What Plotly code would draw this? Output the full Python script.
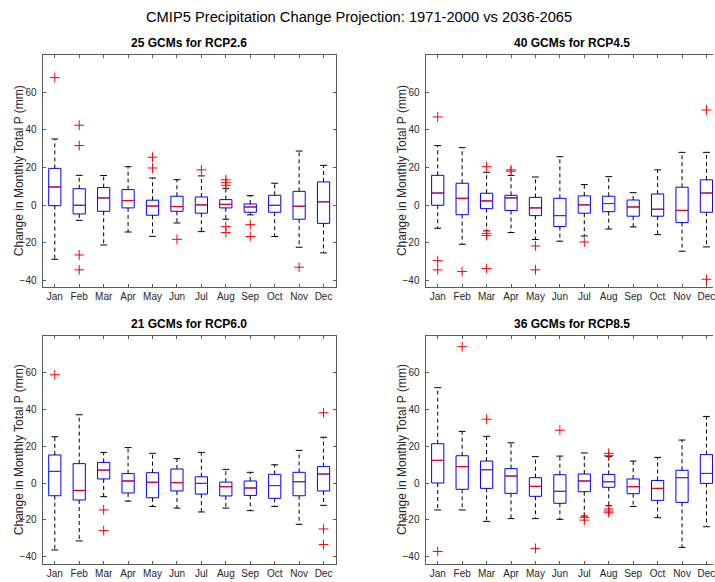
import plotly.graph_objects as go

months = ["Jan", "Feb", "Mar", "Apr", "May", "Jun",
          "Jul", "Aug", "Sep", "Oct", "Nov", "Dec"]
month_pos = list(range(1, 13))

# ---- RCP2.6 (25 GCMs) ----
rcp26_hi = [35.2, 15.9, 15.8, 20.5, 14.5, 13.6, 15.6, 9.0, 5.1, 11.7, 28.8, 21.2]
rcp26_q3 = [19.6, 8.8, 9.4, 8.3, 2.7, 4.8, 4.4, 3.0, 0.7, 5.3, 7.4, 12.4]
rcp26_med = [9.7, 0.0, 3.9, 2.5, -0.4, -0.7, 0.2, 0.5, -0.9, 0.0, -0.5, 1.8]
rcp26_q1 = [-0.2, -4.6, -3.2, -1.4, -5.3, -3.2, -4.2, -1.4, -3.7, -3.7, -7.4, -9.6]
rcp26_lo = [-28.7, -8.0, -21.1, -14.2, -16.5, -9.4, -14.0, -7.4, -5.1, -16.6, -22.3, -25.3]
rcp26_out_month = [1, 2, 2, 2, 2, 5, 5, 6, 7, 8, 8, 8, 8, 8, 9, 9, 11]
rcp26_out_value = [67.8, 42.5, 31.7, -26.4, -34.3, 25.5, 19.8, -18.1, 18.8,
                   13.5, 12.0, 10.6, -11.3, -14.5, -10.3, -16.6, -32.9]

# ---- RCP4.5 (40 GCMs) ----
rcp45_hi = [31.7, 30.6, 17.5, 15.8, 15.0, 25.8, 11.0, 15.2, 6.7, 18.8, 28.1, 28.1]
rcp45_q3 = [15.9, 11.7, 6.4, 5.3, 4.2, 3.7, 5.0, 4.8, 2.8, 6.0, 9.6, 13.5]
rcp45_med = [6.5, 3.7, 2.3, 3.9, -1.4, -5.5, 0.2, 0.9, -0.9, -2.1, -2.7, 6.5]
rcp45_q1 = [0.0, -5.0, -1.8, -2.8, -5.5, -11.3, -4.2, -3.4, -5.8, -5.8, -9.2, -3.7]
rcp45_lo = [-12.2, -20.7, -13.6, -14.5, -18.2, -19.1, -16.3, -12.6, -11.5, -15.6, -24.4, -22.1]
rcp45_out_month = [1, 1, 1, 2, 3, 3, 3, 3, 4, 4, 5, 5, 7, 12, 12]
rcp45_out_value = [46.9, -29.4, -34.3, -35.2, 20.5, -14.9, -16.1, -33.6,
                   18.8, 18.1, -21.6, -34.3, -19.5, 50.6, -39.3]

# ---- RCP6.0 (21 GCMs) ----
rcp60_hi = [25.1, 37.0, 16.6, 19.2, 16.1, 13.2, 16.6, 7.4, 5.8, 9.9, 17.7, 24.8]
rcp60_q3 = [15.2, 10.5, 11.2, 5.1, 5.6, 7.6, 3.4, 0.5, 1.1, 4.7, 5.8, 8.9]
rcp60_med = [6.3, -4.0, 7.0, 1.1, 0.4, 0.2, -0.2, -2.0, -2.7, -1.4, 0.7, 4.9]
rcp60_q1 = [-6.9, -9.2, 2.2, -5.4, -8.0, -4.3, -6.0, -7.0, -6.7, -8.3, -6.9, -4.3]
rcp60_lo = [-36.3, -31.4, -7.4, -9.8, -12.7, -13.6, -15.7, -13.6, -15.0, -12.7, -22.4, -12.1]
rcp60_out_month = [1, 3, 3, 12, 12, 12]
rcp60_out_value = [58.7, -14.6, -25.8, 38.1, -24.9, -33.3]

# ---- RCP8.5 (36 GCMs) ----
rcp85_hi = [51.7, 28.0, 25.3, 21.8, 14.3, 14.6, 16.3, 14.3, 11.9, 13.9, 23.3, 36.1]
rcp85_q3 = [21.3, 14.8, 11.9, 7.8, 2.9, 4.5, 4.9, 4.7, 2.2, 1.4, 6.9, 15.4]
rcp85_med = [12.3, 8.9, 7.2, 3.8, -1.8, -4.5, 1.1, 0.7, -2.0, -2.9, 2.9, 5.2]
rcp85_q1 = [0.0, -3.4, -2.9, -5.6, -7.2, -11.0, -4.7, -2.3, -5.8, -9.4, -10.5, -0.2]
rcp85_lo = [-14.6, -14.6, -20.8, -19.3, -19.3, -19.7, -17.9, -12.3, -12.7, -18.8, -34.9, -23.7]
rcp85_out_month = [1, 2, 3, 5, 6, 7, 7, 8, 8, 8, 8, 8]
rcp85_out_value = [-37.1, 73.9, 34.6, -35.4, 28.6, -18.6, -20.1,
                   16.1, 14.8, -14.1, -15.2, -16.1]

y_ticks = [-40, -20, 0, 20, 40, 60]

panels = [
    dict(title="25 GCMs for RCP2.6", hi=rcp26_hi, q3=rcp26_q3, med=rcp26_med,
         q1=rcp26_q1, lo=rcp26_lo, om=rcp26_out_month, ov=rcp26_out_value),
    dict(title="40 GCMs for RCP4.5", hi=rcp45_hi, q3=rcp45_q3, med=rcp45_med,
         q1=rcp45_q1, lo=rcp45_lo, om=rcp45_out_month, ov=rcp45_out_value),
    dict(title="21 GCMs for RCP6.0", hi=rcp60_hi, q3=rcp60_q3, med=rcp60_med,
         q1=rcp60_q1, lo=rcp60_lo, om=rcp60_out_month, ov=rcp60_out_value),
    dict(title="36 GCMs for RCP8.5", hi=rcp85_hi, q3=rcp85_q3, med=rcp85_med,
         q1=rcp85_q1, lo=rcp85_lo, om=rcp85_out_month, ov=rcp85_out_value),
]

W, H = 715, 582
FONT = "Liberation Sans, Arial, Helvetica, sans-serif"
AX_COLOR = "#595959"
TXT_COLOR = "#262626"
BOX_HALF = 0.25
CAP_HALF = 0.14

# panel frames in pixels: (left, right, top, bottom); right column runs past the page edge
col_px = [(42.7, 336.7), (426.7, 720.7)]
row_px = [(55.0, 287.0), (336.0, 564.0)]
row_yrange = [[-43.4, 79.8], [-43.9, 79.7]]

fig = go.Figure()
layout = dict(
    width=W, height=H,
    margin=dict(l=0, r=0, t=0, b=0),
    paper_bgcolor="white", plot_bgcolor="white",
    showlegend=False,
    font=dict(family=FONT, size=10, color=TXT_COLOR),
    annotations=[],
)

for k, p in enumerate(panels):
    r, c = divmod(k, 2)
    left, right = col_px[c]
    top, bottom = row_px[r]
    xdom_end = min(right, W) / W
    x_end = 0.5 + 12.0 * (min(right, W) - left) / (right - left)
    suffix = "" if k == 0 else str(k + 1)
    xref, yref = "x" + suffix, "y" + suffix

    layout["xaxis" + suffix] = dict(
        domain=[left / W, xdom_end], range=[0.5, x_end], anchor=yref,
        tickmode="array", tickvals=month_pos, ticktext=months,
        ticks="inside", ticklen=3, tickcolor=AX_COLOR, tickwidth=1,
        showline=True, linecolor=AX_COLOR, linewidth=1, mirror="ticks",
        showgrid=False, zeroline=False, fixedrange=True,
        ticklabeloverflow="allow",
        tickfont=dict(family=FONT, size=10, color=TXT_COLOR),
    )
    layout["yaxis" + suffix] = dict(
        domain=[1 - bottom / H, 1 - top / H], range=row_yrange[r], anchor=xref,
        tickmode="array", tickvals=y_ticks,
        ticks="inside", ticklen=3, tickcolor=AX_COLOR, tickwidth=1,
        showline=True, linecolor=AX_COLOR, linewidth=1,
        mirror="ticks" if c == 0 else False,
        showgrid=False, zeroline=False, fixedrange=True,
        ticklabelstandoff=3,
        tickfont=dict(family=FONT, size=10, color=TXT_COLOR),
    )

    # whiskers (dashed) from box edges to the caps
    wx, wy = [], []
    cx, cy = [], []
    mx, my = [], []
    for i, m in enumerate(month_pos):
        wx += [m, m, None, m, m, None]
        wy += [p["q3"][i], p["hi"][i], None, p["q1"][i], p["lo"][i], None]
        cx += [m - CAP_HALF, m + CAP_HALF, None, m - CAP_HALF, m + CAP_HALF, None]
        cy += [p["hi"][i], p["hi"][i], None, p["lo"][i], p["lo"][i], None]
        mx += [m - BOX_HALF, m + BOX_HALF, None]
        my += [p["med"][i], p["med"][i], None]

    fig.add_trace(go.Scatter(
        x=wx, y=wy, mode="lines", xaxis=xref, yaxis=yref,
        line=dict(color="black", width=1, dash="4px,3px"), hoverinfo="skip"))
    fig.add_trace(go.Scatter(
        x=cx, y=cy, mode="lines", xaxis=xref, yaxis=yref,
        line=dict(color="black", width=1), hoverinfo="skip"))
    fig.add_trace(go.Box(
        x=month_pos, q1=p["q1"], median=p["med"], q3=p["q3"],
        lowerfence=p["q1"], upperfence=p["q3"],
        xaxis=xref, yaxis=yref, width=2 * BOX_HALF,
        line=dict(color="#0000FF", width=1), fillcolor="rgba(0,0,0,0)",
        boxpoints=False, whiskerwidth=0, hoverinfo="skip"))
    fig.add_trace(go.Scatter(
        x=mx, y=my, mode="lines", xaxis=xref, yaxis=yref,
        line=dict(color="#FF0000", width=1), hoverinfo="skip"))
    fig.add_trace(go.Scatter(
        x=p["om"], y=p["ov"], mode="markers", xaxis=xref, yaxis=yref,
        marker=dict(symbol="cross-thin", size=7, color="#FF0000",
                    line=dict(color="#FF0000", width=1)),
        hoverinfo="skip"))

    # panel title, centred on the full panel width
    layout["annotations"].append(dict(
        text="<b>" + p["title"] + "</b>", xref="paper", yref="paper",
        x=(left + right) / 2 / W, y=1 - (top - 12) / H,
        xanchor="center", yanchor="middle", showarrow=False,
        font=dict(family=FONT, size=12, color="black")))
    # y-axis title
    layout["annotations"].append(dict(
        text="Change in Monthly Total P (mm)", xref="paper", yref="paper",
        x=(left - 23.5) / W, y=1 - (top + bottom) / 2 / H, textangle=-90,
        xanchor="center", yanchor="middle", showarrow=False,
        font=dict(family=FONT, size=12, color=TXT_COLOR)))

layout["annotations"].append(dict(
    text="CMIP5 Precipitation Change Projection: 1971-2000 vs 2036-2065",
    xref="paper", yref="paper", x=360 / W, y=1 - 17 / H,
    xanchor="center", yanchor="middle", showarrow=False,
    font=dict(family=FONT, size=14.7, color="black")))

fig.update_layout(**layout)
fig.write_html("out.html")
